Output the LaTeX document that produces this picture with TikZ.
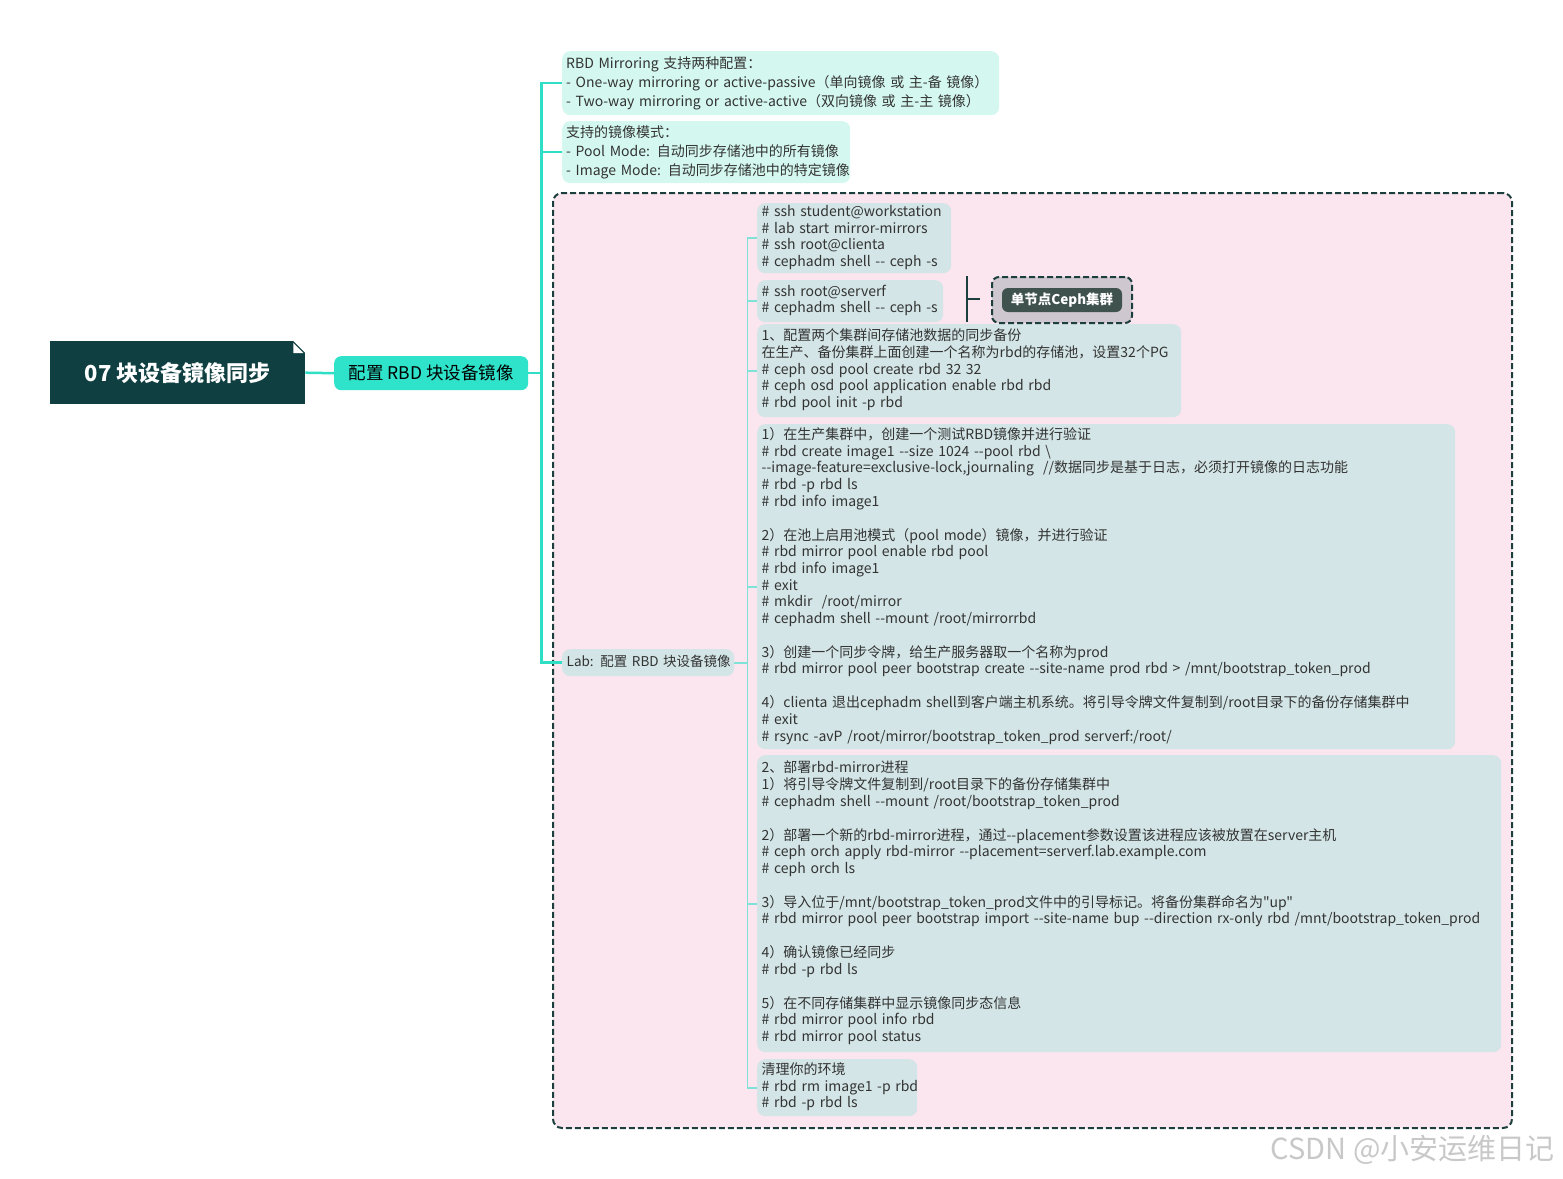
\documentclass[tikz,border=0pt]{standalone}
\usepackage{fontspec}
\newfontfamily\mmfont{Noto Sans CJK SC}[Ligatures=TeXOff]
\usepackage{tikz}
\usetikzlibrary{
  positioning,
  calc,
}
\definecolor{rootteal}{HTML}{0F3F41}
\definecolor{topicteal}{HTML}{2EE3CA}
\definecolor{branchline}{HTML}{2EDFC6}
\definecolor{leafline}{HTML}{7EE3D6}
\definecolor{mintbg}{HTML}{D4F8F0}
\definecolor{labbg}{HTML}{D3E5E6}
\definecolor{zonebg}{HTML}{FBE6EF}
\definecolor{zoneborder}{HTML}{1C3F3E}
\definecolor{sumbg}{HTML}{CFC7CF}
\definecolor{sumpill}{HTML}{3F524E}
\definecolor{bodytext}{HTML}{333333}
\definecolor{markgray}{HTML}{C8C8C8}
\newcommand\textrows[1]{\begin{tabular}{@{}l@{}}#1\end{tabular}}

\begin{document}
\begin{tikzpicture}[x=1pt, y=-1pt,
    every node/.style={font=\mmfont},
    rootbox/.style={rectangle, fill=rootteal, text=white, anchor=north west,
                    inner sep=0pt, font=\mmfont\fontsize{22}{26}\selectfont\bfseries},
    topicbox/.style={rectangle, rounded corners=7pt, fill=topicteal, text=black,
                     anchor=north west, inner sep=0pt,
                     font=\mmfont\fontsize{17.5}{20}\selectfont},
    notebox/.style={rectangle, rounded corners=8pt, fill=mintbg, text=bodytext,
                    anchor=north west, inner xsep=4pt, inner ysep=0pt, align=left,
                    font=\mmfont\fontsize{14}{19}\selectfont},
    stepbox/.style={rectangle, rounded corners=8pt, fill=labbg, text=bodytext,
                    anchor=north west, inner xsep=4.5pt, inner ysep=0pt, align=left,
                    font=\mmfont\fontsize{14}{16.7}\selectfont},
    trunk/.style={draw=branchline, line width=2.5pt},
    twig/.style={draw=leafline, line width=1.6pt},
  ]
  \useasboundingbox (0,0) rectangle (1563,1178);

  % lab zone
  \node[draw=zoneborder, fill=zonebg, line width=2pt, dash pattern=on 6pt off 3pt,
        rounded corners=9pt, anchor=north west, inner sep=0pt,
        minimum width=959pt, minimum height=935pt] (zone) at (552,192) {};

  \node[rootbox, minimum width=255pt, minimum height=63pt] (root) at (50,341)
    {07 块设备镜像同步};
  \fill[white] ($(root.north east)+(-12,0)$) -- (root.north east) -- ++(0,12) -- cycle;
  \fill[white] ($(root.north east)+(-12,2)$) -- ++(0,10) -- ++(10,0) -- cycle;

  \node[topicbox, minimum width=194pt, minimum height=34pt] (cfg) at (334,356)
    {配置 RBD 块设备镜像};

  \node[notebox, text width=429pt, minimum height=64pt] (modes) at (562,51)
    {\textrows{RBD Mirroring 支持两种配置：\\
     - One-way mirroring or active-passive（单向镜像 或 主-备 镜像）\\
     - Two-way mirroring or active-active（双向镜像 或 主-主 镜像）}};
  \node[notebox, text width=280pt, minimum height=62pt] (kinds) at (562,121)
    {\textrows{支持的镜像模式：\\
     - Pool Mode: 自动同步存储池中的所有镜像\\
     - Image Mode: 自动同步存储池中的特定镜像}};

  \node[stepbox, text width=163pt, minimum height=27pt,
        font=\mmfont\fontsize{13.5}{16}\selectfont] (lab) at (562,649)
    {\textrows{Lab: 配置 RBD 块设备镜像}};

  \node[stepbox, text width=185pt, minimum height=70pt] (login) at (757,203)
    {\textrows{\# ssh student@workstation\\
     \# lab start mirror-mirrors\\
     \# ssh root@clienta\\
     \# cephadm shell -- ceph -s}};
  \node[stepbox, text width=177pt, minimum height=42pt] (serverf) at (757,280)
    {\textrows{\# ssh root@serverf\\
     \# cephadm shell -- ceph -s}};
  \node[stepbox, text width=415pt, minimum height=93pt] (pool) at (757,324)
    {\textrows{1、配置两个集群间存储池数据的同步备份\\
     在生产、备份集群上面创建一个名称为rbd的存储池，设置32个PG\\
     \# ceph osd pool create rbd 32 32\\
     \# ceph osd pool application enable rbd rbd\\
     \# rbd pool init -p rbd}};
  \node[stepbox, text width=689pt, minimum height=325pt] (token) at (757,424)
    {\textrows{1）在生产集群中，创建一个测试RBD镜像并进行验证\\
     \# rbd create image1 --size 1024 --pool rbd \textbackslash\\
     --image-feature=exclusive-lock,journaling~ //数据同步是基于日志，必须打开镜像的日志功能\\
     \# rbd -p rbd ls\\
     \# rbd info image1\\[16.7pt]
     2）在池上启用池模式（pool mode）镜像，并进行验证\\
     \# rbd mirror pool enable rbd pool\\
     \# rbd info image1\\
     \# exit\\
     \# mkdir~ /root/mirror\\
     \# cephadm shell --mount /root/mirrorrbd\\[16.7pt]
     3）创建一个同步令牌，给生产服务器取一个名称为prod\\
     \# rbd mirror pool peer bootstrap create --site-name prod rbd > /mnt/bootstrap\_token\_prod\\[16.7pt]
     4）clienta 退出cephadm shell到客户端主机系统。将引导令牌文件复制到/root目录下的备份存储集群中\\
     \# exit\\
     \# rsync -avP /root/mirror/bootstrap\_token\_prod serverf:/root/}};
  \node[stepbox, text width=735pt, minimum height=297pt] (daemon) at (757,755)
    {\textrows{2、部署rbd-mirror进程\\
     1）将引导令牌文件复制到/root目录下的备份存储集群中\\
     \# cephadm shell --mount /root/bootstrap\_token\_prod\\[16.7pt]
     2）部署一个新的rbd-mirror进程，通过--placement参数设置该进程应该被放置在server主机\\
     \# ceph orch apply rbd-mirror --placement=serverf.lab.example.com\\
     \# ceph orch ls\\[16.7pt]
     3）导入位于/mnt/bootstrap\_token\_prod文件中的引导标记。将备份集群命名为"up"\\
     \# rbd mirror pool peer bootstrap import --site-name bup --direction rx-only rbd /mnt/bootstrap\_token\_prod\\[16.7pt]
     4）确认镜像已经同步\\
     \# rbd -p rbd ls\\[16.7pt]
     5）在不同存储集群中显示镜像同步态信息\\
     \# rbd mirror pool info rbd\\
     \# rbd mirror pool status}};
  \node[stepbox, text width=151pt, minimum height=57pt] (cleanup) at (757,1059)
    {\textrows{清理你的环境\\
     \# rbd rm image1 -p rbd\\
     \# rbd -p rbd ls}};

  % summary
  \node[draw=zoneborder, fill=sumbg, line width=2pt, dash pattern=on 6pt off 3pt,
        rounded corners=7pt, anchor=north west, inner sep=0pt,
        minimum width=140pt, minimum height=46pt] (sumframe) at (991,276) {};
  \node[fill=sumpill, text=white, rounded corners=6pt, inner sep=0pt,
        minimum width=120pt, minimum height=24pt,
        font=\mmfont\fontsize{13.5}{15}\selectfont\bfseries] (single) at (sumframe.center)
    {单节点Ceph集群};
  \coordinate (brtop) at (967,276);
  \coordinate (brbot) at (967,322);
  \draw[zoneborder, line width=2pt] (brtop) -- (brbot);
  \draw[zoneborder, line width=2pt] ($(brtop)!0.5!(brbot)$) -- ++(13,0);

  \draw[trunk] (root.east) -- (cfg.west);
  \draw[trunk] (cfg.east) -- ++(13,0) |- (modes.west);
  \draw[trunk] (cfg.east) -- ++(13,0) |- (kinds.west);
  \draw[trunk] (cfg.east) -- ++(13,0) |- (lab.west);

  \foreach \leaf in {login, serverf, pool, token, daemon, cleanup}
    \draw[twig] (lab.east) -- ++(13,0) |- (\leaf.west);

  \node[anchor=east, text=markgray, font=\mmfont\fontsize{29}{32}\selectfont]
    (mark) at (1558,1150) {CSDN @小安运维日记};
\end{tikzpicture}
\end{document}
